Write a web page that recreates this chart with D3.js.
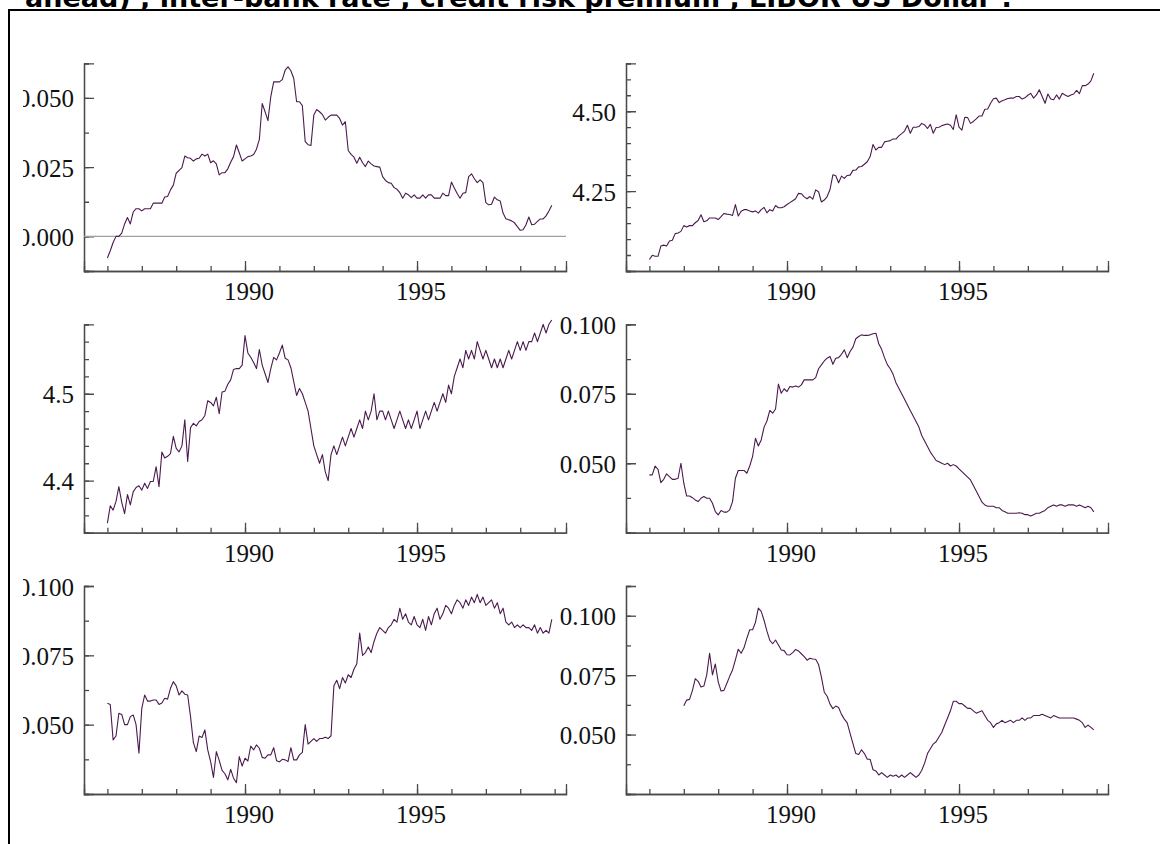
<!DOCTYPE html>
<html><head><meta charset="utf-8">
<script src="https://cdn.jsdelivr.net/npm/d3@7"></script>
<style>body{margin:0;background:#fff}svg{display:block}</style>
</head><body>
<script>
const titleText = "ahead) , inter-bank rate , credit risk premium , LIBOR US Dollar :";
const majorYears = [1990, 1995];
const minorYears = [1986,1987,1988,1989,1990,1991,1992,1993,1994,1995,1996,1997,1998,1999];

const p1Start = 1986, p2Start = 1986, p3Start = 1986, p4Start = 1986, p5Start = 1986, p6Start = 1987;

const p1Values = [
-0.0078,-0.0052,-0.0022,0.0000,0.0000,0.0012,0.0045,0.0068,0.0045,0.0088,
0.0100,0.0100,0.0092,0.0100,0.0100,0.0100,0.0120,0.0120,0.0120,0.0120,
0.0142,0.0144,0.0168,0.0185,0.0228,0.0238,0.0248,0.0290,0.0284,0.0282,
0.0272,0.0280,0.0282,0.0297,0.0290,0.0297,0.0266,0.0273,0.0262,0.0222,
0.0230,0.0230,0.0244,0.0268,0.0288,0.0330,0.0302,0.0272,0.0280,0.0288,
0.0290,0.0296,0.0315,0.0350,0.0480,0.0450,0.0418,0.0505,0.0558,0.0558,
0.0558,0.0566,0.0600,0.0612,0.0598,0.0570,0.0486,0.0486,0.0472,0.0342,
0.0331,0.0328,0.0438,0.0458,0.0450,0.0440,0.0420,0.0430,0.0438,0.0438,
0.0438,0.0426,0.0402,0.0414,0.0310,0.0296,0.0286,0.0264,0.0286,0.0266,
0.0252,0.0272,0.0262,0.0254,0.0252,0.0250,0.0216,0.0202,0.0194,0.0192,
0.0176,0.0170,0.0158,0.0138,0.0156,0.0150,0.0140,0.0150,0.0138,0.0138,
0.0150,0.0138,0.0150,0.0150,0.0138,0.0138,0.0138,0.0156,0.0147,0.0147,
0.0196,0.0175,0.0155,0.0138,0.0156,0.0158,0.0216,0.0226,0.0208,0.0194,
0.0204,0.0194,0.0122,0.0114,0.0116,0.0142,0.0132,0.0128,0.0084,0.0064,
0.0060,0.0056,0.0049,0.0035,0.0022,0.0024,0.0042,0.0070,0.0042,0.0044,
0.0054,0.0063,0.0063,0.0074,0.0092,0.0112];

const p2Values = [
4.036,4.049,4.046,4.046,4.078,4.081,4.078,4.094,4.096,4.117,
4.119,4.124,4.142,4.138,4.142,4.142,4.151,4.158,4.176,4.154,
4.157,4.166,4.166,4.166,4.161,4.170,4.180,4.178,4.177,4.174,
4.208,4.172,4.187,4.192,4.192,4.188,4.185,4.188,4.181,4.192,
4.199,4.182,4.192,4.188,4.205,4.198,4.198,4.201,4.208,4.214,
4.220,4.226,4.243,4.242,4.232,4.226,4.233,4.225,4.254,4.248,
4.216,4.222,4.233,4.255,4.301,4.298,4.276,4.297,4.290,4.299,
4.300,4.315,4.316,4.326,4.327,4.334,4.342,4.358,4.396,4.379,
4.387,4.387,4.404,4.406,4.408,4.413,4.413,4.423,4.430,4.438,
4.456,4.431,4.450,4.450,4.452,4.462,4.457,4.446,4.459,4.431,
4.449,4.450,4.455,4.458,4.460,4.456,4.443,4.489,4.450,4.441,
4.481,4.480,4.462,4.468,4.476,4.485,4.485,4.506,4.507,4.525,
4.539,4.541,4.527,4.533,4.536,4.540,4.541,4.541,4.546,4.546,
4.538,4.542,4.550,4.556,4.541,4.551,4.567,4.546,4.525,4.554,
4.538,4.536,4.551,4.538,4.556,4.551,4.546,4.551,4.554,4.565,
4.555,4.580,4.580,4.585,4.595,4.619];

const p3Values = [
4.351,4.371,4.366,4.376,4.393,4.375,4.362,4.384,4.372,4.387,
4.392,4.394,4.389,4.397,4.391,4.399,4.399,4.416,4.393,4.433,
4.426,4.428,4.431,4.451,4.437,4.433,4.440,4.470,4.422,4.461,
4.466,4.463,4.468,4.470,4.475,4.492,4.490,4.486,4.496,4.477,
4.502,4.503,4.511,4.516,4.528,4.529,4.529,4.533,4.567,4.547,
4.542,4.536,4.529,4.551,4.533,4.523,4.513,4.529,4.542,4.539,
4.547,4.556,4.541,4.539,4.530,4.514,4.498,4.506,
4.500,4.490,4.480,4.460,4.440,4.430,4.420,4.430,4.410,4.400,4.430,4.440,
4.430,4.440,4.450,4.440,4.450,4.460,4.450,4.460,4.470,4.460,
4.480,4.470,4.480,4.500,4.470,4.480,4.480,4.470,4.480,4.470,
4.460,4.470,4.480,4.470,4.460,4.470,4.460,4.470,4.480,4.460,
4.470,4.480,4.470,4.480,4.490,4.480,4.490,4.500,4.490,4.510,
4.500,4.520,4.530,4.540,4.530,4.550,4.540,4.550,4.540,4.560,
4.550,4.540,4.550,4.540,4.530,4.540,4.530,4.540,4.530,4.540,
4.550,4.540,4.550,4.560,4.550,4.560,4.550,4.560,4.560,4.570,
4.560,4.570,4.580,4.570,4.580,4.585];

const p4Values = [
0.0458,0.0458,0.0490,0.0478,0.0430,0.0442,0.0462,0.0452,0.0442,0.0442,
0.0446,0.0500,0.0428,0.0382,0.0382,0.0376,0.0368,0.0362,0.0374,0.0380,
0.0374,0.0374,0.0356,0.0326,0.0314,0.0330,0.0324,0.0324,0.0332,0.0362,
0.0446,0.0474,0.0474,0.0474,0.0464,0.0490,0.0525,0.0590,0.0562,0.0584,
0.0630,0.0652,0.0690,0.0680,0.0695,0.0785,0.0752,0.0768,0.0758,0.0776,
0.0774,0.0778,0.0774,0.0782,0.0800,0.0800,0.0800,0.0800,0.0808,0.0840,
0.0854,0.0868,0.0878,0.0884,0.0856,0.0878,0.0880,0.0892,0.0908,0.0880,
0.0902,0.0918,0.0948,0.0956,0.0962,0.0960,0.0960,0.0962,0.0966,0.0968,
0.0930,
0.0910,0.0880,0.0855,0.0840,0.0820,0.0790,0.0770,0.0750,0.0730,0.0710,
0.0690,0.0670,0.0650,0.0630,0.0600,0.0580,0.0560,0.0540,0.0525,0.0510,
0.0505,0.0500,0.0495,0.0500,0.0490,0.0495,0.0490,0.0480,0.0470,0.0460,
0.0450,0.0440,0.0420,0.0400,0.0380,0.0360,0.0350,0.0345,0.0345,0.0345,
0.0340,0.0340,0.0330,0.0325,0.0320,0.0320,0.0320,0.0320,0.0322,0.0320,
0.0315,0.0315,0.0310,0.0315,0.0320,0.0320,0.0325,0.0330,0.0340,0.0345,
0.0350,0.0345,0.0350,0.0350,0.0345,0.0350,0.0350,0.0350,0.0345,0.0350,
0.0345,0.0340,0.0345,0.0340,0.0325];

const p5Values = [
0.0577,0.0573,0.0445,0.0459,0.0541,0.0537,0.0500,0.0500,0.0529,0.0535,
0.0500,0.0397,0.0559,0.0607,0.0585,0.0585,0.0589,0.0589,0.0573,0.0578,
0.0595,0.0592,0.0631,0.0655,0.0640,0.0607,0.0622,0.0610,0.0607,0.0529,
0.0435,0.0403,0.0459,0.0454,0.0481,0.0409,0.0367,0.0310,0.0403,0.0371,
0.0335,0.0323,0.0301,0.0339,0.0307,0.0291,0.0385,0.0351,0.0379,0.0369,
0.0423,0.0409,0.0427,0.0415,0.0382,0.0379,0.0391,0.0391,0.0417,0.0370,
0.0366,0.0375,0.0373,0.0367,0.0417,0.0373,0.0373,0.0391,
0.0400,0.0500,0.0430,0.0440,0.0450,0.0440,0.0450,0.0450,0.0455,0.0450,0.0460,
0.0640,0.0660,0.0630,0.0670,0.0650,0.0680,0.0670,0.0700,0.0720,0.0830,
0.0750,0.0760,0.0780,0.0760,0.0800,0.0830,0.0850,
0.0840,0.0830,
0.0850,0.0860,0.0880,0.0870,0.0920,0.0880,0.0900,0.0870,0.0860,0.0890,
0.0860,0.0850,0.0880,0.0840,0.0890,0.0860,0.0900,0.0920,0.0880,0.0900,
0.0930,0.0920,0.0900,0.0930,0.0950,0.0940,0.0920,0.0950,0.0930,0.0960,
0.0940,0.0970,0.0940,0.0960,0.0930,0.0940,0.0950,0.0920,0.0940,0.0900,
0.0920,0.0870,0.0860,0.0870,0.0850,0.0860,0.0850,0.0860,0.0850,0.0850,
0.0840,0.0860,0.0830,0.0850,0.0830,0.0840,0.0830,0.0880];

const p6Values = [
0.0621,0.0645,0.0648,0.0685,0.0735,0.0724,0.0700,0.0704,0.0751,0.0842,
0.0751,0.0797,0.0722,0.0683,0.0686,0.0715,0.0745,0.0772,0.0814,0.0859,
0.0842,0.0865,0.0906,0.0941,0.0941,0.0972,0.1032,0.1018,0.0980,0.0935,
0.0896,0.0882,0.0898,0.0877,0.0856,0.0853,0.0836,0.0835,0.0845,0.0858,
0.0852,0.0840,0.0828,0.0813,0.0821,0.0818,0.0817,0.0795,0.0742,0.0678,
0.0661,0.0628,0.0609,0.0620,0.0614,0.0585,0.0565,0.0549,0.0505,0.0462,
0.0420,0.0416,0.0436,0.0420,0.0396,0.0396,0.0352,0.0347,0.0330,
0.0340,0.0330,0.0320,0.0330,0.0325,0.0330,0.0320,0.0330,0.0320,0.0330,0.0340,0.0330,0.0320,0.0330,
0.0350,0.0380,0.0420,0.0440,0.0460,0.0470,0.0490,0.0510,0.0540,0.0570,
0.0600,0.0640,0.0640,0.0630,0.0630,0.0620,0.0610,0.0610,0.0600,0.0590,
0.0595,0.0600,0.0580,0.0560,0.0550,0.0530,0.0545,0.0550,0.0560,0.0550,
0.0555,0.0560,0.0550,0.0560,0.0560,0.0570,0.0560,0.0570,0.0570,0.0580,
0.0580,0.0580,0.0585,0.0580,0.0575,0.0570,0.0580,0.0575,0.0570,0.0570,
0.0570,0.0570,0.0570,0.0570,0.0565,0.0560,0.0550,0.0530,0.0540,0.0530,
0.0520];

const p1Ticks = [0.000, 0.025, 0.050], p1Fmt = ".3f", p1Domain = [-0.0125, 0.0625], p1Minor = 0.0125;
const p2Ticks = [4.25, 4.50], p2Fmt = ".2f", p2Domain = [4.0, 4.65], p2Minor = 0.05;
const p3Ticks = [4.4, 4.5], p3Fmt = ".1f", p3Domain = [4.34, 4.58], p3Minor = 0.02;
const p4Ticks = [0.050, 0.075, 0.100], p4Fmt = ".3f", p4Domain = [0.025, 0.100], p4Minor = 0.0125;
const p5Ticks = [0.050, 0.075, 0.100], p5Fmt = ".3f", p5Domain = [0.025, 0.100], p5Minor = 0.0125;
const p6Ticks = [0.050, 0.075, 0.100], p6Fmt = ".3f", p6Domain = [0.025, 0.1125], p6Minor = 0.0125;

const W = 1160, H = 844;
const svg = d3.select("body").append("svg").attr("width", W).attr("height", H);

// title (cut at top, as in the reference)
svg.append("text").attr("x", 25).attr("y", 7)
  .attr("font-family", "DejaVu Sans").attr("font-weight", "bold").attr("font-size", 27)
  .attr("fill", "#000").text(titleText);
svg.append("rect").attr("x", 9).attr("y", 10).attr("width", 1300).attr("height", 1000)
  .attr("fill", "none").attr("stroke", "#000").attr("stroke-width", 2);

const cols = [{x0: 84, x1: 566, clip: 23}, {x0: 626, x1: 1108, clip: 560}];
const rows = [{y0: 63.3, y1: 271}, {y0: 324.3, y1: 532.7}, {y0: 586, y1: 794}];
const panels = [
  {v: p1Values, s: p1Start, t: p1Ticks, f: p1Fmt, d: p1Domain, m: p1Minor, r: 0, c: 0, zero: true},
  {v: p2Values, s: p2Start, t: p2Ticks, f: p2Fmt, d: p2Domain, m: p2Minor, r: 0, c: 1},
  {v: p3Values, s: p3Start, t: p3Ticks, f: p3Fmt, d: p3Domain, m: p3Minor, r: 1, c: 0},
  {v: p4Values, s: p4Start, t: p4Ticks, f: p4Fmt, d: p4Domain, m: p4Minor, r: 1, c: 1},
  {v: p5Values, s: p5Start, t: p5Ticks, f: p5Fmt, d: p5Domain, m: p5Minor, r: 2, c: 0},
  {v: p6Values, s: p6Start, t: p6Ticks, f: p6Fmt, d: p6Domain, m: p6Minor, r: 2, c: 1},
];

const axisColor = "#4a4a4a";
const lineColor = "#4b1a4e";
const defs = svg.append("defs");

panels.forEach((p, k) => {
  const col = cols[p.c], row = rows[p.r];
  const x = d3.scaleLinear().domain([1985.32, 1999.33]).range([col.x0, col.x1]);
  const y = d3.scaleLinear().domain(p.d).range([row.y1, row.y0]);
  defs.append("clipPath").attr("id", "cp" + k).append("rect")
    .attr("x", col.clip).attr("y", row.y0 - 40).attr("width", 1200).attr("height", 300);
  const g = svg.append("g").attr("clip-path", `url(#cp${k})`);

  const minorVals = d3.range(Math.ceil(p.d[0] / p.m - 1e-6), Math.floor(p.d[1] / p.m + 1e-6) + 1).map(i => i * p.m);
  const ym = g.append("g").attr("transform", `translate(${col.x0},0)`)
    .call(d3.axisRight(y).tickValues(minorVals).tickSize(5).tickFormat(""));
  const yM = g.append("g").attr("transform", `translate(${col.x0},0)`)
    .call(d3.axisRight(y).tickValues(p.t).tickSize(10).tickFormat(""));
  g.append("g").selectAll("text").data(p.t).join("text")
    .attr("x", col.x0 - 10).attr("y", d => y(d)).attr("dy", "0.38em")
    .attr("text-anchor", "end").attr("font-family", "Liberation Serif").attr("font-size", 25)
    .attr("fill", "#111").text(d => d3.format(p.f)(d));

  const xm = g.append("g").attr("transform", `translate(0,${row.y1})`)
    .call(d3.axisTop(x).tickValues(minorYears).tickSize(5).tickFormat(""));
  const xM = g.append("g").attr("transform", `translate(0,${row.y1})`)
    .call(d3.axisTop(x).tickValues(majorYears).tickSize(10).tickFormat(""));
  g.append("g").selectAll("text").data(majorYears).join("text")
    .attr("x", d => x(d) + 4).attr("y", row.y1 + 29)
    .attr("text-anchor", "middle").attr("font-family", "Liberation Serif").attr("font-size", 25)
    .attr("fill", "#111").text(d => d);

  [ym, yM, xm, xM].forEach(a => {
    a.selectAll("path.domain").attr("stroke", axisColor).attr("stroke-width", 1.3);
    a.selectAll("line").attr("stroke", axisColor).attr("stroke-width", 1.3);
  });

  if (p.zero) {
    g.append("line").attr("x1", col.x0).attr("x2", col.x1).attr("y1", y(0)).attr("y2", y(0))
      .attr("stroke", "#a0a0a0").attr("stroke-width", 1.3);
  }

  const line = d3.line().x((d, i) => x(p.s + i / 12)).y(d => y(d));
  g.append("path").datum(p.v).attr("d", line).attr("fill", "none")
    .attr("stroke", lineColor).attr("stroke-width", 1.1).attr("stroke-linejoin", "round");
});
</script>
</body></html>
